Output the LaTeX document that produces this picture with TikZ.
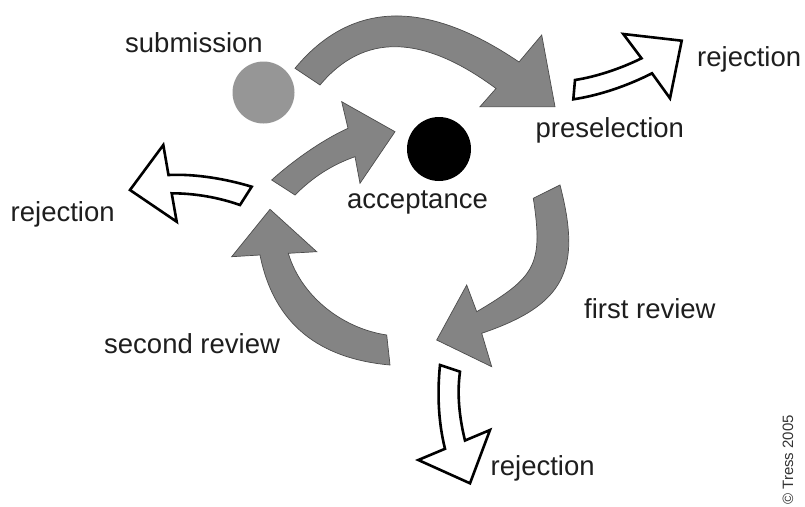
\documentclass[tikz,border=0pt]{standalone}
\usepackage{fontspec}
\setmainfont{Liberation Sans}
\definecolor{arrowgray}{RGB}{132,132,132}
\definecolor{dotgray}{RGB}{150,150,150}
\definecolor{txt}{RGB}{30,30,30}
\tikzset{
  grayarrow/.style={fill=arrowgray,draw=black!70,line width=0.7pt,line join=miter},
  whitearrow/.style={fill=white,draw=black,line width=2.6pt,line join=miter},
  lbl/.style={inner sep=0pt,anchor=base west,text=txt,font=\fontsize{27.5}{30}\selectfont},
}
\begin{document}
\begin{tikzpicture}[x=1pt,y=-1pt]
\useasboundingbox (0,0) rectangle (805,506);
% circles
\node[circle,fill=dotgray,minimum size=62pt,inner sep=0pt] (sub) at (263.5,92.5) {};
\node[circle,fill=black,minimum size=64pt,inner sep=0pt] (acc) at (439,149) {};
% big top arrow (submission -> preselection)
\path[grayarrow] (295,68.3) .. controls (351,0.7) and (425.7,-1.4) .. (519,62)
  -- (541.7,35) -- (555,106.7) -- (480,106.7) -- (496,88.5)
  .. controls (422.3,33.9) and (363.6,32.8) .. (320,85) -- cycle;
% first review arrow
\path[grayarrow] (560,185) .. controls (582,270) and (565,305) .. (481.7,333.3)
  -- (491.7,366.7) -- (436.7,340) -- (466.7,285) -- (476.7,311.7)
  .. controls (535.2,277) and (543.5,265.6) .. (533.3,198.3) -- cycle;
% second review arrow
\path[grayarrow] (390,365) .. controls (320,358.7) and (274,325) .. (260,255)
  -- (231.7,256.7) -- (270,209.3) -- (316.7,251.7) -- (288.3,253.3)
  .. controls (301.2,296.4) and (342.2,328.3) .. (386.7,335) -- cycle;
% arrow to acceptance
\path[grayarrow] (271.7,180) .. controls (292.4,161.2) and (322.5,139.8) .. (348,128.3)
  -- (341.7,101.7) -- (395,131.7) -- (360,183.3) -- (355,156.7)
  .. controls (331.5,165) and (312.7,177.3) .. (295,195) -- cycle;
% rejection arrows (white)
\path[whitearrow] (575,80) .. controls (596.7,76.7) and (621.8,68.1) .. (641.5,58.3)
  -- (623.3,34) -- (681.7,40.7) -- (670,98.3) -- (652,73.3)
  .. controls (628,85.5) and (600,95.3) .. (573.3,99.3) -- cycle;
\path[whitearrow] (251.7,186.7) .. controls (225.8,178.9) and (195.5,173.7) .. (168.5,175)
  -- (163.3,145) -- (130,190) -- (176.7,221.7) -- (171.7,193.3)
  .. controls (194.7,193.3) and (218.4,197.4) .. (240,205) -- cycle;
\path[whitearrow] (440,365) .. controls (437.2,392.9) and (438.2,421.6) .. (445,448.8)
  -- (418.3,460) -- (470,483.3) -- (490,430) -- (465,440.5)
  .. controls (459.5,418.2) and (456.8,394.5) .. (460,371.7) -- cycle;
% labels
\node[lbl] (tsub) at (125,52.3) {submission};
\node[lbl] (tpre) at (535.5,137.3) {preselection};
\node[lbl] (trej1) at (697,66) {rejection};
\node[lbl] (tacc) at (347,208) {acceptance};
\node[lbl] (trej2) at (10.5,221.7) {rejection};
\node[lbl] (tfir) at (584,318) {first review};
\node[lbl] (tsec) at (104,353.3) {second review};
\node[lbl] (trej3) at (490.5,475) {rejection};
\node[inner sep=0pt,anchor=base west,rotate=90,text=black!80,font=\fontsize{15}{17}\selectfont] (copy) at (793,505) {© Tress 2005};
\end{tikzpicture}
\end{document}
